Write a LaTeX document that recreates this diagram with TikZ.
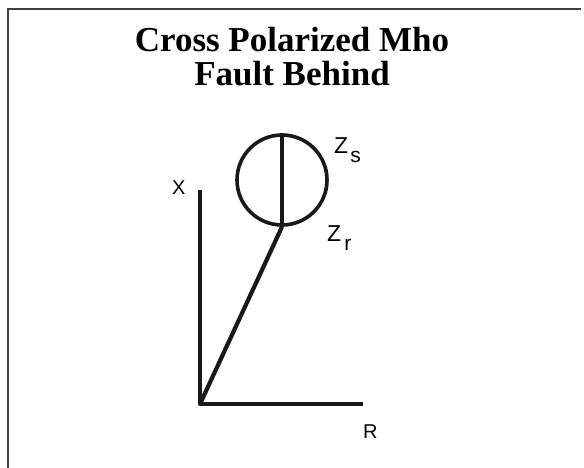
\documentclass[tikz,border=0pt]{standalone}
\usepackage{fontspec}
\setmainfont{Liberation Serif}
\newfontfamily\lsans{Liberation Sans}
\begin{document}
\begin{tikzpicture}[x=1pt,y=-1pt,
  frameline/.style={line width=1.6pt,draw=black!75},
  axisline/.style={line width=4.2pt,draw=black!90,line join=round},
  titletext/.style={font=\fontsize{35}{37}\selectfont\bfseries,anchor=base,inner sep=0pt},
  lbl/.style={font=\lsans\fontsize{20}{20}\selectfont,anchor=base west,inner sep=0pt},
  zlbl/.style={font=\lsans\fontsize{23}{23}\selectfont,anchor=base west,inner sep=0pt}]
\useasboundingbox (0,0) rectangle (584,468);
\coordinate (FTR) at (581,9);
\coordinate (FTL) at (8,9);
\coordinate (FBL) at (8,468);
\draw[frameline] (FTR) -- (FTL) -- (FBL);
\node[titletext] (t1) at (292,52) {Cross Polarized Mho};
\node[titletext] (t2) at (292,86) {Fault Behind};
\coordinate (O) at (200,404);
\coordinate (Xtop) at (200,190);
\coordinate (Rend) at (363,404);
\draw[axisline] (Xtop) -- (O) -- (Rend);
\node[circle,draw=black!90,line width=3.6pt,minimum size=90pt,inner sep=0pt] (C) at (282,180) {};
\draw[axisline] (C.north) -- (C.south);
\draw[axisline] (C.south) -- (O);
\node[lbl] (X) at (172,195) {X};
\node[lbl] (R) at (363,438) {R};
\node[zlbl] (Zs) at (334,154) {Z\hspace{2pt}\raisebox{-9pt}{\fontsize{21}{21}\selectfont s}};
\node[zlbl] (Zr) at (327,241) {Z\hspace{3pt}\raisebox{-9pt}{\fontsize{21}{21}\selectfont r}};
\end{tikzpicture}
\end{document}
